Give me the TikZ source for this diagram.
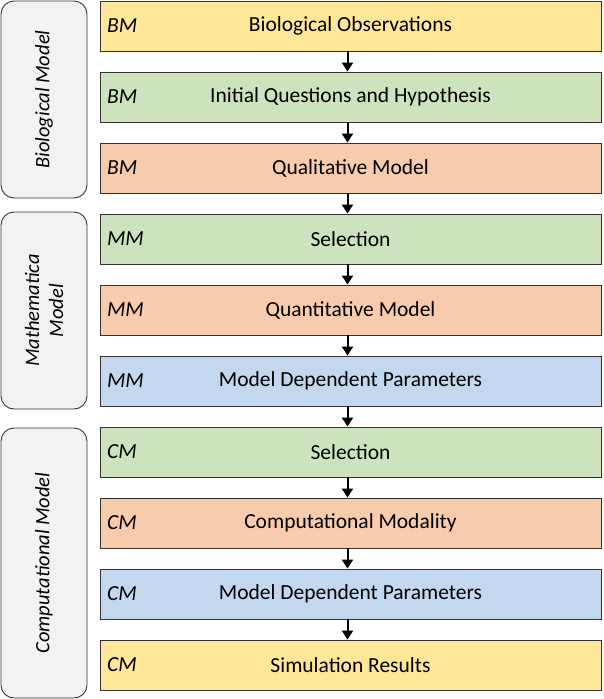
\documentclass[tikz,border=0pt]{standalone}
\usepackage{fontspec}
\setmainfont{Carlito}
\usetikzlibrary{arrows.meta}
\definecolor{cy}{HTML}{FFE699}
\definecolor{cg}{HTML}{CCE3BD}
\definecolor{co}{HTML}{F8CBAD}
\definecolor{cb}{HTML}{C3D8EE}
\definecolor{cp}{HTML}{F2F2F2}
\begin{document}
\begin{tikzpicture}[x=1pt,y=-1pt,
  box/.style={draw=black!80,line width=0.9pt,minimum width=501pt,minimum height=50pt,inner sep=0pt,font=\fontsize{21.5}{24}\selectfont},
  tag/.style={anchor=west,font=\fontsize{21.5}{24}\selectfont\itshape},
  panel/.style={draw=black!80,line width=0.9pt,fill=cp,rounded corners=13pt,minimum width=86pt,inner sep=0pt},
  ptext/.style={rotate=90,font=\fontsize{20.5}{24}\selectfont\itshape,align=center},
  arr/.style={-{Triangle[length=9pt,width=11pt]},line width=2pt}]
\useasboundingbox (0,0) rectangle (603,699);
\node[panel,minimum height=197pt] (p1) at (44,99.5) {};
\node[ptext] at (p1) {Biological Model};
\node[panel,minimum height=197pt] (p2) at (44,310.5) {};
\node[ptext] at (p2) {Mathematica\\Model};
\node[panel,minimum height=270pt] (p3) at (44,563) {};
\node[ptext] at (p3) {Computational Model};
\foreach \i/\c/\t/\y/\txt in {
 1/cy/BM/26/Biological Observations,
 2/cg/BM/97/Initial Questions and Hypothesis,
 3/co/BM/168/Qualitative Model,
 4/cg/MM/239/Selection,
 5/co/MM/310/Quantitative Model,
 6/cb/MM/381/Model Dependent Parameters,
 7/cg/CM/452/Selection,
 8/co/CM/523/Computational Modality,
 9/cb/CM/594/Model Dependent Parameters,
 10/cy/CM/665/Simulation Results}{
 \node[box,fill=\c] (b\i) at (350.5,\y) {\txt};
 \node[tag] at ([xshift=4pt]b\i.west) {\t};
}
\foreach \a/\b in {1/2,2/3,3/4,4/5,5/6,6/7,7/8,8/9,9/10}
 \draw[arr] ([xshift=-3pt]b\a.south) -- ([xshift=-3pt]b\b.north);
\end{tikzpicture}
\end{document}
